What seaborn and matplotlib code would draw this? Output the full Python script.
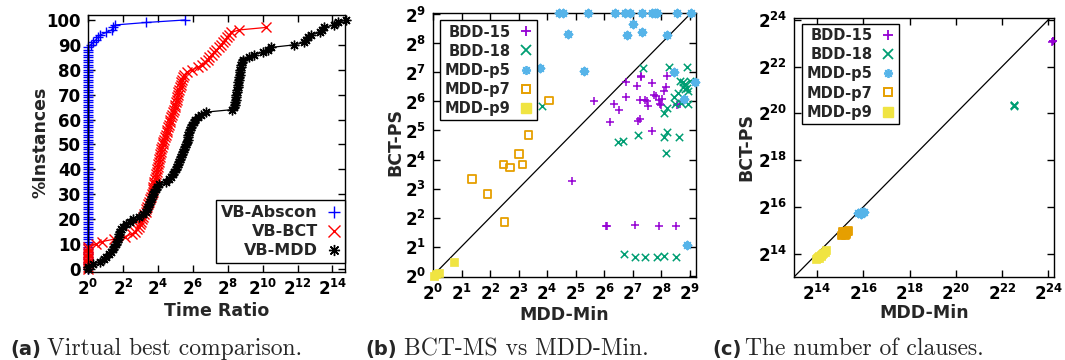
import numpy as np
import matplotlib
matplotlib.use("Agg")
import matplotlib.pyplot as plt
from matplotlib.lines import Line2D
import seaborn as sns

# ---------------- data ----------------
# (a) sorted log2(time ratio) per instance; % instances = rank (100 instances)
n_instances = 100
abscon_log2 = [0.0] * 90 + [0.15, 0.3, 0.45, 0.55, 0.7, 1.05, 1.35, 1.45, 1.55, 3.35, 5.55]
bct_log2 = [0.0] * 10 + [
    0.45, 0.8, 1.5, 2.1, 2.5, 2.7, 2.8, 2.9, 3.0, 3.05,
    3.1, 3.15, 3.2, 3.3, 3.35, 3.4, 3.45, 3.5, 3.55, 3.6,
    3.65, 3.7, 3.72, 3.75, 3.78, 3.8, 3.85, 3.88, 3.9, 3.93,
    3.95, 4.0, 4.02, 4.05, 4.08, 4.1, 4.15, 4.18, 4.2, 4.25,
    4.28, 4.3, 4.35, 4.4, 4.45, 4.5, 4.55, 4.6, 4.65, 4.7,
    4.72, 4.78, 4.82, 4.88, 4.92, 4.97, 5.0, 5.03, 5.07, 5.1,
    5.15, 5.18, 5.22, 5.25, 5.3, 5.35, 5.4, 5.45, 5.52, 5.65,
    5.95, 6.3, 6.55, 6.7, 6.85, 6.95, 7.1, 7.2, 7.35, 7.5,
    7.6, 7.75, 7.85, 7.95, 8.1, 8.2, 8.65, 10.2]
mdd_log2 = [
    0.0, 0.0, 0.3, 0.7, 0.9, 1.05, 1.2, 1.3, 1.43, 1.5,
    1.6, 1.65, 1.7, 1.75, 1.8, 1.85, 1.9, 2.0, 2.15, 2.4,
    2.6, 2.9, 3.15, 3.3, 3.4, 3.45, 3.5, 3.55, 3.6, 3.65,
    3.7, 3.8, 3.9, 3.95, 4.05, 4.45, 4.65, 4.75, 4.85, 4.95,
    5.05, 5.1, 5.15, 5.2, 5.25, 5.35, 5.4, 5.45, 5.5, 5.55,
    5.6, 5.65, 5.7, 5.72, 5.75, 5.8, 5.85, 5.9, 5.95, 6.05,
    6.15, 6.3, 6.5, 6.75, 8.25, 8.35, 8.4, 8.42, 8.45, 8.47,
    8.5, 8.52, 8.55, 8.57, 8.6, 8.62, 8.64, 8.66, 8.68, 8.7,
    8.72, 8.75, 8.78, 8.82, 8.9, 9.2, 9.5, 10.0, 10.3, 10.5,
    11.8, 12.4, 12.5, 12.6, 12.75, 13.3, 13.4, 13.5, 14.1, 14.3,
    14.75]
a_labels = ["VB-Abscon", "VB-BCT", "VB-MDD"]
a_colors = ["#0000FF", "#FF0000", "#000000"]

# (b) log2 run time: MDD-Min (x) vs BCT-PS (y)
b_bdd15_x = [5.64, 6.33, 6.52, 6.21, 4.88, 6.07, 6.10, 7.09, 7.91, 8.53, 6.75, 6.77,
             7.15, 7.28, 7.30, 7.25, 7.44, 7.50, 7.55, 7.66, 7.66, 7.75, 7.83, 7.91,
             7.95, 8.00, 8.09, 8.16, 8.21, 7.20, 7.27, 8.56, 8.65, 8.04]
b_bdd15_y = [6.03, 5.93, 5.70, 5.30, 3.26, 1.72, 1.70, 1.75, 1.70, 1.72, 6.68, 6.14,
             6.55, 6.86, 6.88, 6.05, 6.05, 6.00, 5.85, 6.63, 4.97, 6.23, 6.20, 6.06,
             5.93, 5.89, 6.37, 6.51, 6.87, 5.34, 5.38, 5.89, 5.91, 6.10]
b_bdd18_x = [3.82, 7.36, 8.27, 8.92, 6.48, 6.66, 7.19, 8.10, 8.21, 8.63, 8.16, 8.09,
             8.21, 8.45, 8.60, 8.65, 8.75, 8.83, 8.89, 8.95, 9.00, 8.71, 8.95, 8.47,
             6.68, 7.07, 7.44, 7.85, 8.09, 8.53, 8.77, 8.83]
b_bdd18_y = [5.84, 7.15, 7.20, 7.20, 4.59, 4.65, 4.85, 4.77, 4.94, 4.79, 4.22, 5.61,
             5.77, 6.14, 6.28, 6.71, 6.51, 6.60, 6.46, 6.37, 6.71, 5.94, 5.91, 5.91,
             0.73, 0.64, 0.64, 0.64, 0.66, 0.64, 6.66, 6.43]
b_p5_x = [4.41, 4.57, 5.43, 6.37, 6.72, 6.89, 7.34, 7.66, 7.77, 7.87, 8.56, 9.04,
          4.74, 7.01, 6.81, 7.34, 8.21, 3.76, 5.28, 8.44, 9.18, 8.79, 8.89]
b_p5_y = [9.05] * 12 + [8.34, 8.66, 8.29, 8.41, 8.29, 7.17, 7.06, 7.00, 6.66, 6.08, 1.07]
b_p7_x = [4.06, 3.35, 3.02, 3.14, 2.47, 2.70, 1.36, 1.91, 2.51]
b_p7_y = [6.03, 4.85, 4.19, 3.83, 3.83, 3.73, 3.32, 2.82, 1.84]
b_p9_x = [0.03, 0.09, 0.21, 0.74]
b_p9_y = [0.00, 0.05, 0.09, 0.48]

# (c) log2 number of clauses
c_bdd15_x = [24.17, 24.19, 24.21]
c_bdd15_y = [23.07, 23.09, 23.11]
c_bdd18_x = [22.50, 22.52, 22.54]
c_bdd18_y = [20.33, 20.35, 20.37]
c_p5_x = [15.78, 15.85, 15.92, 15.98, 16.05, 15.88, 15.95]
c_p5_y = [15.72, 15.75, 15.77, 15.79, 15.80, 15.70, 15.72]
c_p7_x = [15.05, 15.10, 15.15, 15.20, 15.25, 15.30, 15.35, 15.12, 15.22, 15.28]
c_p7_y = [14.78, 14.82, 14.86, 14.88, 14.92, 14.95, 14.97, 14.92, 14.80, 14.85]
c_p9_x = [13.94, 14.00, 14.05, 14.10, 14.15, 14.20, 14.25, 14.32, 14.38, 14.08, 14.18]
c_p9_y = [13.78, 13.82, 13.85, 13.90, 13.95, 13.98, 14.03, 14.08, 14.14, 13.80, 13.88]

bc_labels = ["BDD-15", "BDD-18", "MDD-p5", "MDD-p7", "MDD-p9"]
bc_colors = ["#9400D3", "#009E73", "#56B4E9", "#E69F00", "#F0E442"]

a_xtick_exp = [0, 2, 4, 6, 8, 10, 12, 14]
a_yticks = [0, 10, 20, 30, 40, 50, 60, 70, 80, 90, 100]
b_tick_exp = [0, 1, 2, 3, 4, 5, 6, 7, 8, 9]
c_tick_exp = [14, 16, 18, 20, 22, 24]

captions = [("(a)", "Virtual best comparison."),
            ("(b)", "BCT-MS vs MDD-Min."),
            ("(c)", "The number of clauses.")]

# ---------------- style ----------------
sns.set_style("ticks")
plt.rcParams["font.family"] = ["DejaVu Sans"]
plt.rcParams["font.weight"] = "bold"
plt.rcParams["mathtext.default"] = "bf"
plt.rcParams["axes.linewidth"] = 1.0

ASTER = (8, 2, 0)
bc_markers = ["+", "x", ASTER, "s", "s"]

fig = plt.figure(figsize=(10.65, 3.6), dpi=100)
W, H = 1065.0, 360.0


def add_ax(l, r, t, b):
    return fig.add_axes([l / W, (H - b) / H, (r - l) / W, (b - t) / H])


axa = add_ax(88, 345, 15, 272)
axb = add_ax(433, 696, 13, 277)
axc = add_ax(794, 1054, 18, 277)


def pow2(v):
    return 2.0 ** np.asarray(v, dtype=float)


def style_axes(ax, fs=12):
    for s in ax.spines.values():
        s.set_visible(True)
        s.set_color("black")
        s.set_linewidth(1.0)
    ax.tick_params(direction="in", length=5, width=1, top=True, right=True,
                   labelsize=fs, pad=5, colors="black")
    ax.grid(False)


# ---------- (a) ----------
a_series = [abscon_log2, bct_log2, mdd_log2]
a_marks = ["+", "x", ASTER]
for vals, col, mk, lab in zip(a_series, a_colors, a_marks, a_labels):
    xs = pow2(vals)
    ys = np.arange(len(vals)) * 100.0 / n_instances
    sns.lineplot(x=xs, y=ys, ax=axa, color=col, marker=mk, markersize=7,
                 markeredgewidth=1.0, markeredgecolor=col, markerfacecolor=col,
                 linewidth=0.9, estimator=None, sort=False,
                 clip_on=False, label=lab, legend=False)
axa.set_xscale("log", base=2)
axa.set_xlim(1, 2 ** 14.72)
axa.set_ylim(-1.2, 102)
axa.set_xticks(pow2(a_xtick_exp), [r"$2^{%d}$" % e for e in a_xtick_exp])
axa.set_yticks(a_yticks, [str(v) for v in a_yticks])
axa.minorticks_off()
style_axes(axa)
axa.set_xlabel("Time Ratio", fontsize=12.5, fontweight="bold")
axa.set_ylabel("%Instances", fontsize=12.5, fontweight="bold")
axa.xaxis.set_label_coords(0.5, -0.115)
axa.yaxis.set_label_coords(-0.15, 0.506)
ha = [Line2D([], [], color=c, marker=m, linestyle="none", markersize=8, markeredgewidth=1.0)
      for c, m in zip(a_colors, a_marks)]
leg = axa.legend(ha, a_labels, loc="lower right", bbox_to_anchor=(1.0, 0.035),
                 markerfirst=False, frameon=True, fancybox=False, framealpha=1,
                 edgecolor="black", prop={"weight": "bold", "size": 11.5},
                 handlelength=0.8, handletextpad=0.6, labelspacing=0.25,
                 borderpad=0.3, borderaxespad=0.0)
leg.get_frame().set_linewidth(1.0)

# ---------- (b), (c) ----------
b_series = [(b_bdd15_x, b_bdd15_y), (b_bdd18_x, b_bdd18_y), (b_p5_x, b_p5_y),
            (b_p7_x, b_p7_y), (b_p9_x, b_p9_y)]
c_series = [(c_bdd15_x, c_bdd15_y), (c_bdd18_x, c_bdd18_y), (c_p5_x, c_p5_y),
            (c_p7_x, c_p7_y), (c_p9_x, c_p9_y)]


def scatter_panel(ax, series):
    for i, ((xv, yv), col, mk) in enumerate(zip(series, bc_colors, bc_markers)):
        xs, ys = pow2(xv), pow2(yv)
        if i == 3:
            sns.scatterplot(x=xs, y=ys, ax=ax, marker="s", s=30, facecolor="none",
                            edgecolor=col, linewidth=1.3, clip_on=False, zorder=3)
        elif i == 4:
            sns.scatterplot(x=xs, y=ys, ax=ax, marker="s", s=36, color=col,
                            edgecolor=col, linewidth=0.5, clip_on=False, zorder=3)
        elif i == 2:
            sns.scatterplot(x=xs, y=ys, ax=ax, marker=mk, s=30, color=col,
                            edgecolor=col, linewidth=1.5, clip_on=False, zorder=3)
        else:
            sns.scatterplot(x=xs, y=ys, ax=ax, marker=mk, s=28, color=col,
                            linewidth=1.1, clip_on=False, zorder=3)
    ax.axline((1, 1), (2, 2), color="black", linewidth=0.9, zorder=2)


scatter_panel(axb, b_series)
axb.set_xscale("log", base=2)
axb.set_yscale("log", base=2)
axb.set_xlim(1, 2 ** 9.22)
axb.set_ylim(2 ** -0.05, 2 ** 9.05)
axb.set_xticks(pow2(b_tick_exp), [r"$2^{%d}$" % e for e in b_tick_exp])
axb.set_yticks(pow2(b_tick_exp), [r"$2^{%d}$" % e for e in b_tick_exp])
axb.minorticks_off()
style_axes(axb)
axb.set_xlabel("MDD-Min", fontsize=12.5, fontweight="bold")
axb.set_ylabel("BCT-PS", fontsize=12.5, fontweight="bold")
axb.xaxis.set_label_coords(0.5, -0.11)
axb.yaxis.set_label_coords(-0.11, 0.511)

scatter_panel(axc, c_series)
axc.set_xscale("log", base=2)
axc.set_yscale("log", base=2)
axc.set_xlim(2 ** 13, 2 ** 24.25)
axc.set_ylim(2 ** 13, 2 ** 24.08)
axc.set_xticks(pow2(c_tick_exp), [r"$2^{%d}$" % e for e in c_tick_exp])
axc.set_yticks(pow2(c_tick_exp), [r"$2^{%d}$" % e for e in c_tick_exp])
axc.minorticks_off()
style_axes(axc)
axc.set_xlabel("MDD-Min", fontsize=12.5, fontweight="bold")
axc.set_ylabel("BCT-PS", fontsize=12.5, fontweight="bold")
axc.xaxis.set_label_coords(0.5, -0.105)
axc.yaxis.set_label_coords(-0.15, 0.502)

for ax, anchor in [(axb, (0.027, 0.973)), (axc, (0.031, 0.977))]:
    hb = []
    for i, (c, m) in enumerate(zip(bc_colors, bc_markers)):
        if i == 3:
            hb.append(Line2D([], [], marker="s", linestyle="none", markerfacecolor="none",
                             markeredgecolor=c, markeredgewidth=1.4, markersize=6))
        elif i == 4:
            hb.append(Line2D([], [], marker="s", linestyle="none", color=c, markersize=6.5))
        else:
            hb.append(Line2D([], [], marker=m, linestyle="none", color=c, markersize=6.5,
                             markeredgewidth=1.3))
    lg = ax.legend(hb, bc_labels, loc="upper left", bbox_to_anchor=anchor,
                   markerfirst=False, frameon=True, fancybox=False, framealpha=1,
                   edgecolor="black", prop={"weight": "bold", "size": 10.5},
                   handlelength=0.8, handletextpad=0.7, labelspacing=0.28,
                   borderpad=0.3, borderaxespad=0.0)
    lg.get_frame().set_linewidth(1.0)

# ---------- captions ----------
cap_pos = [(10, 47), (365, 404), (712, 745)]
for (tag, txt), (xt, xc) in zip(captions, cap_pos):
    fig.text(xt / W, (H - 355) / H, tag, fontsize=14, fontweight="bold",
             family=["DejaVu Sans"], ha="left", va="baseline")
    fig.text(xc / W, (H - 355) / H, txt, fontsize=17, fontweight="normal",
             family=["cmr10", "DejaVu Serif"], ha="left", va="baseline")

fig.savefig("out.png", dpi=100)
